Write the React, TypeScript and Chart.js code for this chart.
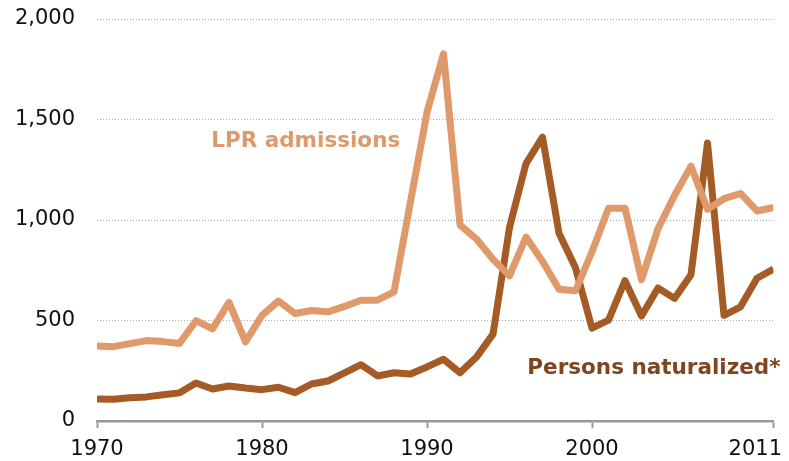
import React, { useEffect, useRef } from "react";
import { Chart, registerables } from "chart.js";

Chart.register(...registerables);

const years = [
  1970, 1971, 1972, 1973, 1974, 1975, 1976, 1977, 1978, 1979,
  1980, 1981, 1982, 1983, 1984, 1985, 1986, 1987, 1988, 1989,
  1990, 1991, 1992, 1993, 1994, 1995, 1996, 1997, 1998, 1999,
  2000, 2001, 2002, 2003, 2004, 2005, 2006, 2007, 2008, 2009,
  2010, 2011,
];

const lprAdmissions = [
  373, 370, 385, 400, 395, 386, 499, 458, 590, 394,
  525, 597, 535, 550, 543, 570, 601, 601, 642, 1091,
  1536, 1827, 975, 905, 805, 722, 915, 795, 655, 648,
  842, 1058, 1059, 703, 957, 1122, 1268, 1053, 1106, 1132,
  1045, 1062,
];

const personsNaturalized = [
  110, 108, 116, 120, 131, 140, 189, 159, 174, 164,
  156, 168, 141, 184, 199, 240, 280, 224, 240, 234,
  269, 307, 240, 318, 432, 963, 1280, 1412, 934, 762,
  462, 502, 698, 522, 662, 610, 728, 1383, 526, 568,
  710, 756,
];

const xTickYears = [1970, 1980, 1990, 2000, 2011];
const yTickValues = [0, 500, 1000, 1500, 2000];

const seriesLabels = ["LPR admissions", "Persons naturalized*"];

const FONT = "'DejaVu Sans', Verdana, sans-serif";
const LPR_COLOR = "#DF996A";
const NAT_COLOR = "#A55B25";
const NAT_TEXT = "#7D4621";

const labelPlugin = {
  id: "customLabels",
  afterDraw(chart: any) {
    const ctx = chart.ctx;
    const xs = chart.scales.x;
    const ys = chart.scales.y;
    ctx.save();
    // x tick labels
    ctx.font = `21px ${FONT}`;
    ctx.fillStyle = "#111";
    ctx.textBaseline = "top";
    ctx.textAlign = "left";
    xTickYears.forEach((v) => {
      const label = String(v);
      const w = ctx.measureText(label).width;
      let px = xs.getPixelForValue(v) - w / 2;
      const maxRight = chart.width - 7;
      if (px + w > maxRight) px = maxRight - w;
      ctx.fillText(label, px, ys.bottom + 18);
    });
    // series labels
    ctx.font = `bold 21.5px ${FONT}`;
    ctx.textAlign = "center";
    ctx.textBaseline = "middle";
    ctx.fillStyle = LPR_COLOR;
    ctx.fillText(seriesLabels[0], xs.getPixelForValue(1982.65), ys.getPixelForValue(1393));
    ctx.fillStyle = NAT_TEXT;
    ctx.fillText(seriesLabels[1], xs.getPixelForValue(2003.75), ys.getPixelForValue(263));
    ctx.restore();
  },
};

export default function App() {
  const canvasRef = useRef<HTMLCanvasElement | null>(null);

  useEffect(() => {
    document.body.style.margin = "0";
    const canvas = canvasRef.current;
    if (!canvas) return;
    const chart = new Chart(canvas, {
      type: "line",
      data: {
        datasets: [
          {
            label: seriesLabels[0],
            data: years.map((yr, i) => ({ x: yr, y: lprAdmissions[i] })),
            borderColor: LPR_COLOR,
            borderWidth: 7,
            pointRadius: 0,
            tension: 0,
            borderJoinStyle: "round",
            borderCapStyle: "butt",
            fill: false,
          },
          {
            label: seriesLabels[1],
            data: years.map((yr, i) => ({ x: yr, y: personsNaturalized[i] })),
            borderColor: NAT_COLOR,
            borderWidth: 7,
            pointRadius: 0,
            tension: 0,
            borderJoinStyle: "round",
            borderCapStyle: "butt",
            fill: false,
          },
        ],
      },
      options: {
        animation: false,
        responsive: false,
        maintainAspectRatio: false,
        layout: { padding: { top: 19, right: 15.5, left: 0, bottom: 0 } },
        plugins: {
          legend: { display: false },
          tooltip: { enabled: false },
          title: { display: false },
        },
        scales: {
          x: {
            type: "linear",
            min: 1970,
            max: 2011,
            afterBuildTicks: (scale: any) => {
              scale.ticks = xTickYears.map((v) => ({ value: v }));
            },
            afterFit: (scale: any) => {
              scale.height = 40;
            },
            ticks: { display: false },
            grid: {
              drawOnChartArea: false,
              drawTicks: true,
              tickLength: 7,
              tickColor: "#999",
              tickWidth: 2,
            },
            border: { display: true, color: "#999", width: 2.5 },
          },
          y: {
            min: 0,
            max: 2000,
            afterBuildTicks: (scale: any) => {
              scale.ticks = yTickValues.map((v) => ({ value: v }));
            },
            afterFit: (scale: any) => {
              scale.width = 97;
              scale.paddingTop = 0;
              scale.paddingBottom = 0;
            },
            ticks: {
              color: "#111",
              font: { family: FONT, size: 21 },
              padding: 22,
              callback: (v: any) => Number(v).toLocaleString("en-US"),
            },
            grid: {
              drawTicks: false,
              color: (c: any) => (c.tick && c.tick.value === 0 ? "rgba(0,0,0,0)" : "#aaa"),
              lineWidth: 1,
            },
            border: { display: false, dash: [1, 2] },
          },
        },
      },
      plugins: [labelPlugin],
    });
    return () => chart.destroy();
  }, []);

  return (
    <div style={{ width: 789, height: 461 }}>
      <canvas ref={canvasRef} width={789} height={461} style={{ display: "block" }} />
    </div>
  );
}
